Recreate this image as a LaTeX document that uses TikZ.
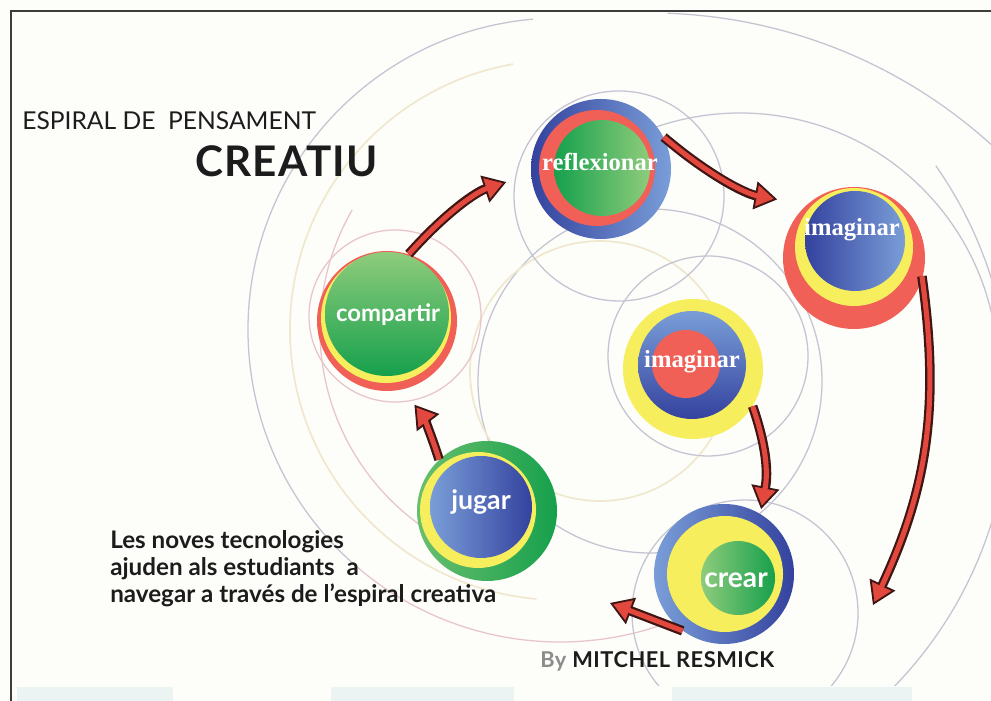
\documentclass[tikz,border=0pt]{standalone}
\usepackage{fontspec}
\setmainfont{Lato}
\newfontfamily\serifring{Liberation Serif}
\usetikzlibrary{arrows.meta}

\definecolor{ringred}{RGB}{240,96,86}
\definecolor{ringyellow}{RGB}{246,238,92}
\definecolor{bluedark}{RGB}{52,66,158}
\definecolor{bluelight}{RGB}{122,158,216}
\definecolor{greendark}{RGB}{22,160,76}
\definecolor{greenlight}{RGB}{142,204,124}
\definecolor{arrowred}{RGB}{226,72,62}
\definecolor{arrowdark}{RGB}{62,22,20}
\definecolor{spiralgray}{RGB}{196,196,210}
\definecolor{spiralpink}{RGB}{232,196,204}
\definecolor{spiralbeige}{RGB}{240,232,205}
\definecolor{paper}{RGB}{253,253,250}
\definecolor{stripcol}{RGB}{236,243,243}
\definecolor{inkcol}{RGB}{28,28,28}
\definecolor{bygray}{RGB}{140,140,140}
\definecolor{framecol}{RGB}{60,60,60}

\tikzset{
  spiral/.style={draw=spiralgray, line width=0.9pt},
  spiralpk/.style={draw=spiralpink, line width=0.9pt},
  spiralbg/.style={draw=spiralbeige, line width=1.2pt},
  hub/.style={circle, minimum size=3.5cm, inner sep=0pt},
  tag/.style={text=white, inner sep=0pt, font=\bfseries\fontsize{17}{17}\selectfont},
  tagserif/.style={text=white, inner sep=0pt, font=\serifring\bfseries\fontsize{17.5}{17.5}\selectfont},
  flowedge/.style={draw=arrowdark, line width=6.8pt,
    -{Triangle[length=16pt,width=20pt,fill=arrowred,line width=1.3pt]}},
  flowcore/.style={draw=arrowred, line width=3.6pt,
    -{Triangle[length=11.5pt,width=12pt,sep=2.8pt,line width=0.1pt]}},
}

\begin{document}
\begin{tikzpicture}[x=0.025cm, y=0.025cm]
  \useasboundingbox (0,0) rectangle (991,701);
  \fill[paper] (0,0) rectangle (991,701);

  % franges del peu
  \fill[stripcol] (17,0) rectangle (173,14);
  \fill[stripcol] (331,0) rectangle (514,14);
  \fill[stripcol] (672,0) rectangle (912,14);

  % espiral de fons
  \begin{scope}
    \clip (12,15) rectangle (991,689);
    \draw[spiral] (560,371) ++(95:312) arc[start angle=95, end angle=230, radius=312];
    \draw[spiralpk] (560,371) ++(230:312) arc[start angle=230, end angle=290, radius=312];
    \draw[spiralbg] (560,371) ++(100:270) arc[start angle=100, end angle=265, radius=270];
    \draw[spiralpk] (560,371) ++(150:240) arc[start angle=150, end angle=262, radius=240];
    \draw[spiral] (650,180) ++(28:508) arc[start angle=28, end angle=88, radius=508];
    \draw[spiral] (740,330) ++(-10:258) arc[start angle=-10, end angle=110, radius=258];
    \draw[spiral] (600,300) ++(-45:410) arc[start angle=-45, end angle=35, radius=410];
    \draw[spiral] (650,320) circle[radius=172];
    \draw[spiralbg] (600,330) circle[radius=130];
    \draw[spiral] (619,505) circle[radius=105];
    \draw[spiral] (708,345) circle[radius=100];
    \draw[spiral] (745,88) circle[radius=113];
    \draw[spiralpk] (395,385) circle[radius=86];
  \end{scope}

  % compartir
  \fill[ringred] (387,380) circle[radius=70];
  \fill[ringyellow] (386,383) circle[radius=65];
  \shade[top color=greenlight, bottom color=greendark] (387,387) circle[radius=62];
  \node[hub] (compartir) at (387,380) {};
  \node[tag] (compartirtxt) at (388,386) {compartir};

  % reflexionar
  \shade[left color=bluedark, right color=bluelight] (601,532) circle[radius=70];
  \fill[ringred] (597,533) circle[radius=58];
  \shade[left color=greendark, right color=greenlight] (602,533) circle[radius=48];
  \node[hub] (reflexionar) at (601,532) {};
  \node[tagserif] (reflexionartxt) at (600,539) {reflexionar};

  % imaginar (dreta)
  \fill[ringred] (854,443) circle[radius=71];
  \fill[ringyellow] (854,454) circle[radius=59];
  \shade[left color=bluedark, right color=bluelight] (855,460) circle[radius=50];
  \node[hub] (imagR) at (854,443) {};
  \node[tagserif] (imagRtxt) at (852,471) {imaginar};

  % imaginar (centre)
  \fill[ringyellow] (693,332) circle[radius=70];
  \shade[top color=bluelight, bottom color=bluedark] (692,336) circle[radius=54];
  \fill[ringred] (686,337) circle[radius=34];
  \node[hub] (imagC) at (693,332) {};
  \node[tagserif] (imagCtxt) at (692,339) {imaginar};

  % crear
  \shade[left color=bluelight, right color=bluedark] (724,127) circle[radius=70];
  \fill[ringyellow] (725,127) circle[radius=58];
  \shade[left color=greenlight, right color=greendark] (738,123) circle[radius=37];
  \node[hub] (crear) at (724,127) {};
  \node[tag, font=\bfseries\fontsize{20}{20}\selectfont] (creartxt) at (736,121) {crear};

  % jugar
  \shade[left color=greenlight!70!greendark, right color=greendark] (487,190) circle[radius=70];
  \fill[ringyellow] (478,191) circle[radius=58];
  \shade[left color=bluelight, right color=bluedark] (481,194) circle[radius=51];
  \node[hub] (jugar) at (487,190) {};
  \node[tag, font=\bfseries\fontsize{19}{19}\selectfont] (jugartxt) at (481,199) {jugar};

  % fletxes
  \coordinate (endR) at (873,96);
  \coordinate (endC) at (610,98);
  \draw[flowedge, shorten >=0.65cm] (compartir.72) to[bend left=15] (reflexionar.184);
  \draw[flowcore, shorten >=0.65cm] (compartir.72) to[bend left=15] (reflexionar.184);
  \draw[flowedge, shorten >=0.78cm] (reflexionar.27) to[bend right=15] (imagR.131);
  \draw[flowcore, shorten >=0.78cm] (reflexionar.27) to[bend right=15] (imagR.131);
  \draw[flowedge] (imagR.-15) to[out=-82, in=65] (endR);
  \draw[flowcore] (imagR.-15) to[out=-82, in=65] (endR);
  \draw[flowedge, shorten >=0.12cm] (imagC.-32) to[bend left=15] (crear.59);
  \draw[flowcore, shorten >=0.12cm] (imagC.-32) to[bend left=15] (crear.59);
  \draw[flowedge] (crear.234) -- (endC);
  \draw[flowcore] (crear.234) -- (endC);
  \draw[flowedge, shorten >=0.48cm] (jugar.133) to[bend right=10] (compartir.-77);
  \draw[flowcore, shorten >=0.48cm] (jugar.133) to[bend right=10] (compartir.-77);

  % textos
  \node[anchor=base west, inner sep=0pt, text=inkcol, font=\fontsize{17.5}{20}\selectfont]
    (title) at (22,571) {ESPIRAL DE~~PENSAMENT};
  \node[anchor=base west, inner sep=0pt, text=inkcol,
    font=\bfseries\fontsize{30}{32}\selectfont\addfontfeature{LetterSpace=3}]
    (creatiu) at (195,524) {CREATIU};
  \node[anchor=base west, inner sep=0pt, align=left, text=inkcol,
    font=\bfseries\fontsize{17.2}{19.2}\selectfont] (note) at (110,98)
    {Les noves tecnologies\\ajuden als estudiants~~a\\navegar a través de l’espiral creativa};
  \node[anchor=base west, inner sep=0pt, text=inkcol,
    font=\bfseries\fontsize{15.5}{17}\selectfont\addfontfeature{LetterSpace=2.5}]
    (byline) at (540,33) {\textcolor{bygray}{By} MITCHEL RESMICK};

  % marc
  \draw[framecol, line width=1.1pt] (11,0) -- (11,690) -- (991,690);
\end{tikzpicture}
\end{document}
